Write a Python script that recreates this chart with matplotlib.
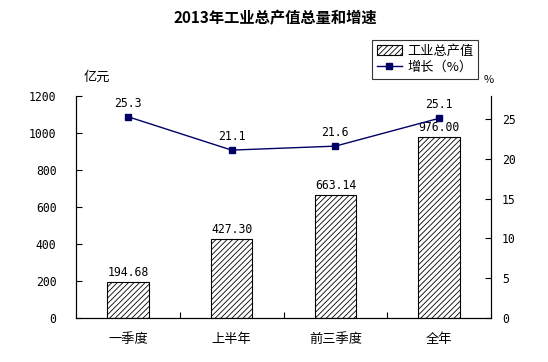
import matplotlib
matplotlib.use('Agg')
import matplotlib.pyplot as plt

plt.rcParams['font.family'] = ['Noto Sans CJK SC', 'DejaVu Sans']
plt.rcParams['hatch.linewidth'] = 0.6

categories = ['一季度', '上半年', '前三季度', '全年']
output_values = [194.68, 427.30, 663.14, 976.00]
growth_rates = [25.3, 21.1, 21.6, 25.1]
left_ticks = [0, 200, 400, 600, 800, 1000, 1200]
right_ticks = [0, 5, 10, 15, 20, 25]

num_font = 'DejaVu Sans Mono'

fig = plt.figure(figsize=(5.48, 3.62), dpi=100)
ax = fig.add_axes([76 / 548, 1 - 318 / 362, (491 - 76) / 548, (318 - 96) / 362])
x = list(range(len(categories)))

bars = ax.bar(x, output_values, width=0.4, color='white', edgecolor='black',
              hatch='//////', linewidth=0.8, label='工业总产值')
for xi, v in zip(x, output_values):
    ax.text(xi, v + 18, f'{v:.2f}', ha='center', va='bottom', fontsize=8.3,
            family=num_font)

ax.set_xlim(-0.5, len(categories) - 0.5)
ax.set_ylim(0, 1200)
ax.set_yticks(left_ticks)
ax.set_yticklabels([str(t) for t in left_ticks], family=num_font, fontsize=8.3)
ax.set_xticks([i + 0.5 for i in x[:-1]], minor=False)
ax.set_xticklabels([])
ax.set_xticks(x, minor=True)
ax.set_xticklabels(categories, minor=True, fontsize=9.5)
ax.tick_params(axis='x', which='minor', length=0, pad=11)
ax.tick_params(axis='x', which='major', direction='in', length=4)
ax.tick_params(axis='y', direction='in', length=4, pad=14)
ax.spines['top'].set_visible(False)

ax2 = ax.twinx()
line, = ax2.plot(x, growth_rates, color='#000066', linewidth=1, marker='s',
                 markersize=5, label='增长（%）')
for xi, v in zip(x, growth_rates):
    ax2.text(xi, v + 0.9, f'{v}', ha='center', va='bottom', fontsize=8.3,
             family=num_font)
ax2.set_ylim(0, 27.9)
ax2.set_yticks(right_ticks)
ax2.set_yticklabels([str(t) for t in right_ticks], family=num_font, fontsize=8.3)
ax2.tick_params(axis='y', direction='in', length=4, pad=8)
ax2.spines['top'].set_visible(False)

fig.text(275 / 548, 1 - 18 / 362, '2013年工业总产值总量和增速', ha='center',
         va='center', fontsize=11, fontweight='bold')
fig.text(97 / 548, 1 - 77 / 362, '亿元', ha='center', va='center', fontsize=9.5)
fig.text(489 / 548, 1 - 80 / 362, '%', ha='center', va='center', fontsize=8)

leg = fig.legend([bars, line], ['工业总产值', '增长（%）'],
                 loc='upper left', bbox_to_anchor=(372 / 548, 1 - 40 / 362),
                 fontsize=9.5, frameon=True, fancybox=False, edgecolor='black',
                 handlelength=1.9, borderpad=0.35, labelspacing=0.25,
                 handletextpad=0.4, borderaxespad=0)
leg.get_frame().set_linewidth(0.8)

fig.savefig('out.png', dpi=100)
